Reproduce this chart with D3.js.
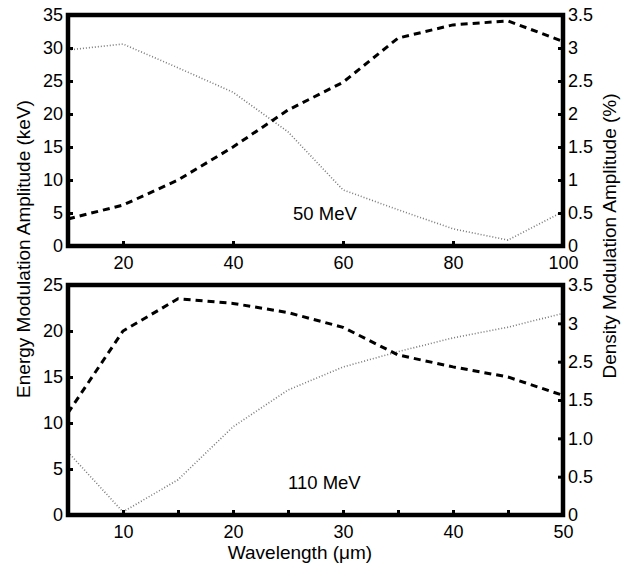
<!DOCTYPE html>
<html lang="en">
<head>
<meta charset="utf-8">
<script src="https://d3js.org/d3.v7.min.js"></script>
<style>
    body { margin: 0; background: #fff; }
    text { font-family: "Liberation Sans", Arial, sans-serif; fill: #000; }
    .tick text { font-size: 18px; }
</style>
</head>
<body>
<svg id="chart" width="641" height="565"></svg>
<script>
    // top panel, 50 MeV
    var topWave = [10, 20, 30, 40, 50, 60, 70, 80, 90, 100];
    var topEnergy = [4.1, 6.2, 10.0, 15.0, 20.6, 24.8, 31.5, 33.5, 34.1, 31.0];
    var topDensity = [2.97, 3.06, 2.70, 2.33, 1.73, 0.85, 0.55, 0.26, 0.09, 0.52];
    var topXTicks = [20, 40, 60, 80, 100];
    var topLeftTicks = [0, 5, 10, 15, 20, 25, 30, 35];
    var topRightTicks = [0, 0.5, 1, 1.5, 2, 2.5, 3, 3.5];
    var topRightLabels = ["0", "0.5", "1", "1.5", "2", "2.5", "3", "3.5"];

    // bottom panel, 110 MeV
    var botWave = [5, 10, 15, 20, 25, 30, 35, 40, 45, 50];
    var botEnergy = [11.1, 20.0, 23.5, 23.0, 22.0, 20.4, 17.4, 16.1, 15.0, 13.0];
    var botDensity = [0.82, 0.04, 0.46, 1.15, 1.63, 1.93, 2.13, 2.31, 2.45, 2.63];
    var botXTicks = [10, 15, 20, 25, 30, 35, 40, 45, 50];
    var botXLabels = [10, 20, 30, 40, 50];
    var botLeftTicks = [0, 5, 10, 15, 20, 25];
    var botRightTicks = [0, 0.5, 1, 1.5, 2, 2.5, 3];
    var botRightLabels = ["0", "0.5", "1.0", "1.5", "2.5", "3", "3.5"];

    var svg = d3.select("#chart");
    var left = 68, right = 563;

    function panel(o) {
        var x = d3.scaleLinear().domain(o.xDomain).range([left, right]);
        var yL = d3.scaleLinear().domain(o.yLDomain).range([o.bottom, o.top]);
        var yR = d3.scaleLinear().domain(o.yRDomain).range([o.bottom, o.top]);
        var g = svg.append("g");

        var line = (ys, yScale) => d3.line()
            .x((d, i) => x(o.wave[i]))
            .y(d => yScale(d))(ys);

        g.append("path")
            .attr("d", line(o.density, yR))
            .attr("fill", "none")
            .attr("stroke", "#7a7a7a")
            .attr("stroke-width", 1.6)
            .attr("stroke-dasharray", "1,2");

        g.append("path")
            .attr("d", line(o.energy, yL))
            .attr("fill", "none")
            .attr("stroke", "#000")
            .attr("stroke-width", 3)
            .attr("stroke-dasharray", "7,5");

        var styleAxis = a => {
            a.select(".domain").remove();
            a.selectAll(".tick line").attr("stroke", "#000").attr("stroke-width", 3);
        };

        g.append("g")
            .attr("transform", "translate(0," + o.bottom + ")")
            .call(d3.axisBottom(x).tickValues(o.xTicks).tickSizeInner(-5).tickSizeOuter(0)
                .tickPadding(10)
                .tickFormat(d => o.xLabels.indexOf(d) >= 0 ? d : ""))
            .call(styleAxis);

        g.append("g")
            .attr("transform", "translate(" + left + ",0)")
            .call(d3.axisLeft(yL).tickValues(o.yLTicks).tickSizeInner(-5).tickSizeOuter(0)
                .tickPadding(5))
            .call(styleAxis);

        g.append("g")
            .attr("transform", "translate(" + right + ",0)")
            .call(d3.axisRight(yR).tickValues(o.yRTicks).tickSizeInner(-5).tickSizeOuter(0)
                .tickPadding(5)
                .tickFormat((d, i) => o.yRLabels[i]))
            .call(styleAxis);

        g.append("rect")
            .attr("x", left).attr("y", o.top)
            .attr("width", right - left).attr("height", o.bottom - o.top)
            .attr("fill", "none")
            .attr("stroke", "#000")
            .attr("stroke-width", 4.5);

        g.append("text")
            .attr("x", o.labelX).attr("y", o.labelY)
            .style("font-size", "18.5px")
            .text(o.label);
    }

    panel({
        top: 15, bottom: 246,
        xDomain: [10, 100], yLDomain: [0, 35], yRDomain: [0, 3.5],
        wave: topWave, energy: topEnergy, density: topDensity,
        xTicks: topXTicks, xLabels: topXTicks,
        yLTicks: topLeftTicks, yRTicks: topRightTicks, yRLabels: topRightLabels,
        label: "50 MeV", labelX: 293, labelY: 220
    });

    panel({
        top: 285, bottom: 515,
        xDomain: [5, 50], yLDomain: [0, 25], yRDomain: [0, 3],
        wave: botWave, energy: botEnergy, density: botDensity,
        xTicks: botXTicks, xLabels: botXLabels,
        yLTicks: botLeftTicks, yRTicks: botRightTicks, yRLabels: botRightLabels,
        label: "110 MeV", labelX: 288, labelY: 489
    });

    svg.append("text")
        .attr("transform", "translate(30,249) rotate(-90)")
        .attr("text-anchor", "middle")
        .style("font-size", "19px")
        .text("Energy Modulation Amplitude (keV)");

    svg.append("text")
        .attr("transform", "translate(616,236) rotate(-90)")
        .attr("text-anchor", "middle")
        .style("font-size", "19px")
        .text("Density Modulation Amplitude (%)");

    svg.append("text")
        .attr("x", 300).attr("y", 559)
        .attr("text-anchor", "middle")
        .style("font-size", "19px")
        .text("Wavelength (\u03bcm)");
</script>
</body>
</html>
